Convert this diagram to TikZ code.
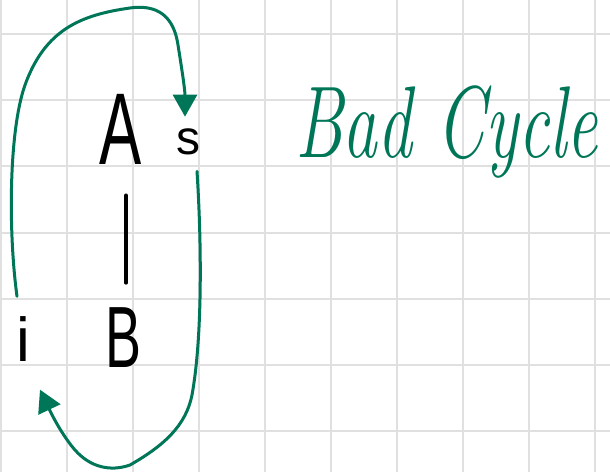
\documentclass[tikz,border=0pt]{standalone}
\usepackage{fontspec}
\newfontfamily\hsans{Liberation Sans}
\usetikzlibrary{arrows.meta}
\definecolor{ink}{RGB}{0,118,88}
\definecolor{gridc}{RGB}{224,224,224}
\begin{document}
\begin{tikzpicture}[x=1pt,y=-1pt,
  gridline/.style={gridc,line width=1.8pt},
  letter/.style={inner sep=0pt,text=black},
  pen/.style={black,line width=3.6pt,line cap=round},
  cyc/.style={ink,line width=3pt,line cap=round,-{Triangle[length=22pt,width=24pt]}}]
\useasboundingbox[fill=white] (0,0) rectangle (610,472);
\foreach \x in {1,67,133,199,265,331,397,463,529,595} \draw[gridline] (\x,0) -- (\x,472);
\foreach \y in {34,100,166,233,299,365,431} \draw[gridline] (0,\y) -- (610,\y);

\node[letter,font=\hsans\fontsize{102}{102}\selectfont] (A) at (121,129) {\scalebox{0.62}[1]{A}};
\node[letter,font=\hsans\fontsize{87}{87}\selectfont] (B) at (123,338) {\scalebox{0.62}[1]{B}};
\node[letter,font=\hsans\fontsize{48}{48}\selectfont] (s) at (188,142) {s};
\node[letter,font=\hsans\fontsize{62}{62}\selectfont] (i) at (23,339) {i};
\node[inner sep=0pt,anchor=base west,text=ink,font=\itshape\fontsize{102}{102}\selectfont] (title) at (295,157) {\scalebox{0.68}[1]{Bad Cycle}};

\draw[pen] ([xshift=5pt,yshift=-31pt]A.south) -- ([xshift=3pt,yshift=25pt]B.north);

\draw[cyc] ([xshift=-6pt,yshift=20pt]i.north) .. controls (8,230) and (9,130) .. (25,85)
  .. controls (45,30) and (80,15) .. (130,8)
  .. controls (165,3) and (175,25) .. (178,45)
  .. controls (182,70) and (185,90) .. ([xshift=-3pt,yshift=12pt]s.north);

\draw[cyc] ([xshift=9pt,yshift=-16pt]s.south) .. controls (202,250) and (202,340) .. (192,395)
  .. controls (186,425) and (165,445) .. (130,465)
  .. controls (110,472) and (90,467) .. (75,450)
  .. controls (62,435) and (52,415) .. ([xshift=17pt,yshift=-28pt]i.south);
\end{tikzpicture}
\end{document}
